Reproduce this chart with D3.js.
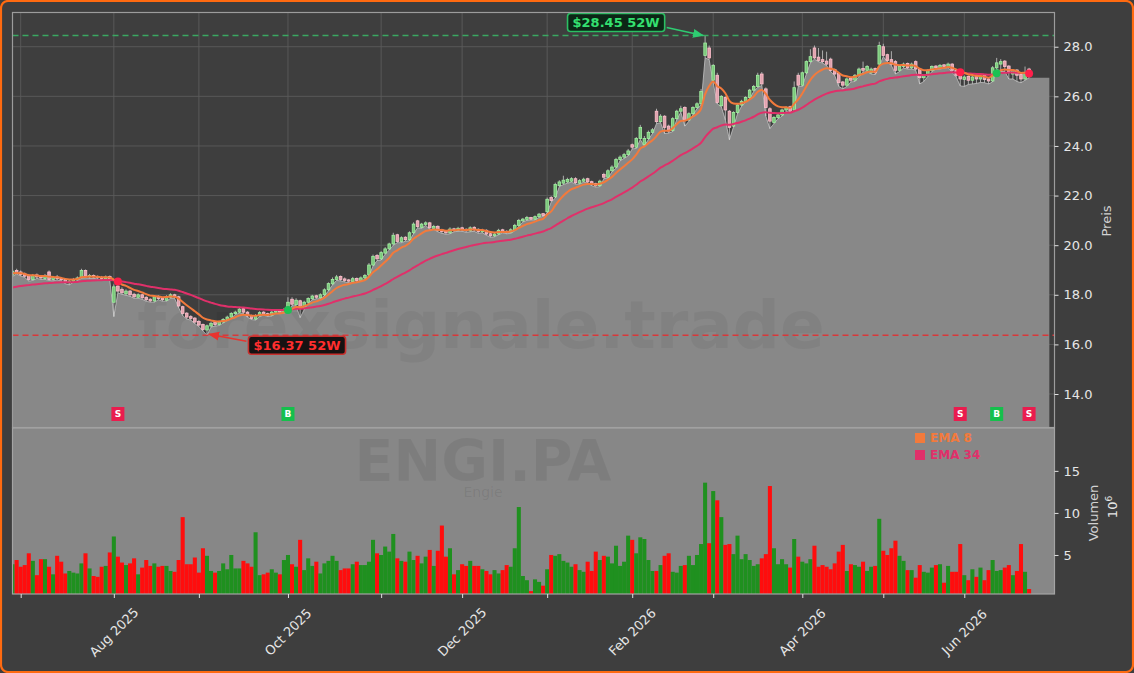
<!DOCTYPE html>
<html>
<head>
<meta charset="utf-8">
<script src="https://cdn.jsdelivr.net/npm/d3@7"></script>
<style>
html, body { margin: 0; padding: 0; background: #3e3e3e; }
svg { display: block; font-family: "DejaVu Sans", sans-serif; }
</style>
</head>
<body>
<svg id="chart" width="1134" height="673"></svg>
<script>
// ENGI.PA daily data (prices in EUR, volume in millions)
const firstDay = "2025-06-27";
const holidays = ["2025-12-25", "2025-12-26", "2026-01-01", "2026-04-03", "2026-04-06", "2026-05-01"];

const opens = [
 18.80,18.98,18.92,18.84,18.78,18.62,18.80,18.74,18.66,18.92, 18.62,18.72,18.66,18.62,18.48,18.55,18.62,18.70,18.98,18.72,
 18.78,18.74,18.70,18.64,18.74,17.70,18.35,18.22,18.04,18.15, 18.02,17.90,18.00,17.90,17.82,17.75,17.94,17.86,17.78,17.90,
 18.00,17.92,17.52,17.26,17.12,17.06,16.92,16.80,16.58,16.74, 16.88,16.80,16.90,17.00,17.10,17.24,17.30,17.44,17.30,17.16,
 17.02,17.15,17.30,17.24,17.18,17.30,17.36,17.30,17.40,17.82, 17.60,17.76,17.44,17.70,17.84,17.96,17.88,18.00,18.20,18.44,
 18.62,18.74,18.64,18.60,18.54,18.66,18.58,18.68,18.80,19.20, 19.58,19.45,19.68,19.85,20.05,20.42,20.15,20.32,20.22,20.50,
 20.98,20.72,20.84,20.90,20.68,20.76,20.62,20.56,20.50,20.66, 20.60,20.70,20.64,20.58,20.72,20.64,20.54,20.60,20.46,20.38,
 20.45,20.62,20.56,20.52,20.62,20.80,20.98,21.04,21.12,21.05, 21.15,21.27,21.35,21.92,21.95,22.40,22.50,22.55,22.58,22.68,
 22.50,22.58,22.68,22.56,22.48,22.40,22.85,22.74,23.00,23.15, 23.45,23.55,23.65,24.05,23.95,24.30,24.05,24.30,24.55,25.40,
 24.98,25.20,24.80,24.62,25.10,25.40,25.55,25.05,25.30,25.55, 25.70,27.65,27.95,26.65,26.85,25.62,25.95,25.40,24.80,25.35,
 25.65,25.80,25.95,26.25,26.40,26.90,26.30,25.50,24.95,25.15, 25.25,25.45,25.58,25.45,26.85,26.45,26.95,27.40,27.95,27.58,
 27.48,27.42,27.50,27.08,26.92,26.58,26.45,26.72,26.65,26.85, 27.12,27.05,26.95,27.12,27.30,28.00,27.68,27.48,27.40,27.05,
 27.20,27.32,27.15,27.40,27.10,26.75,26.85,27.05,27.22,27.15, 27.27,27.20,27.30,27.06,26.95,26.68,26.80,26.65,26.80,26.70,
 26.84,26.70,26.62,27.15,27.30,27.42,27.22,26.90,27.06,26.88, 26.70,27.10
];
const highs = [
 19.02,19.05,18.98,18.90,18.84,18.84,18.86,18.80,18.84,18.98, 18.76,18.80,18.72,18.66,18.60,18.68,18.74,19.05,19.02,18.84,
 18.82,18.78,18.76,18.78,18.78,18.42,18.42,18.30,18.22,18.20, 18.08,18.06,18.04,17.94,17.86,17.98,17.98,17.90,17.98,18.06,
 18.04,17.96,17.56,17.30,17.18,17.10,16.98,16.84,16.80,16.92, 16.92,16.96,17.06,17.16,17.30,17.36,17.50,17.48,17.34,17.20,
 17.22,17.34,17.34,17.28,17.36,17.40,17.40,17.46,17.90,17.90, 17.86,17.80,17.76,17.90,18.00,18.00,18.06,18.26,18.50,18.70,
 18.80,18.78,18.70,18.64,18.72,18.70,18.74,18.84,19.28,19.62, 19.64,19.76,19.92,20.10,20.50,20.46,20.36,20.36,20.56,20.92,
 21.02,20.90,20.96,20.94,20.82,20.80,20.66,20.60,20.72,20.70, 20.74,20.74,20.68,20.76,20.76,20.68,20.66,20.64,20.50,20.52,
 20.66,20.66,20.60,20.68,20.86,21.06,21.10,21.18,21.14,21.20, 21.30,21.30,21.92,21.98,22.52,22.62,22.80,22.72,22.74,22.74,
 22.66,22.72,22.72,22.60,22.52,22.64,22.92,23.06,23.22,23.52, 23.62,23.72,23.88,24.10,24.36,24.85,24.40,24.62,24.72,25.50,
 25.28,25.24,24.86,25.16,25.46,25.62,25.60,25.36,25.60,25.76, 26.30,28.45,28.05,27.30,26.95,26.05,26.00,25.45,25.40,25.70,
 25.86,26.00,26.30,26.46,26.95,26.98,26.36,25.56,25.20,25.30, 25.50,25.60,25.62,26.60,26.95,27.00,27.45,27.90,28.05,27.95,
 27.85,27.80,27.56,27.12,26.96,26.62,26.76,26.78,26.90,27.16, 27.40,27.26,27.16,27.16,28.20,28.12,27.72,27.82,27.46,27.26,
 27.36,27.36,27.36,27.45,27.14,26.90,27.10,27.25,27.26,27.30, 27.30,27.36,27.34,27.10,27.00,26.84,26.84,26.84,26.84,26.88,
 26.88,26.74,27.22,27.55,27.50,27.46,27.26,27.10,27.10,26.92, 27.20,27.15
];
const lows = [
 18.74,18.84,18.76,18.70,18.55,18.58,18.66,18.62,18.62,18.58, 18.56,18.60,18.55,18.45,18.40,18.50,18.58,18.66,18.68,18.66,
 18.66,18.64,18.60,18.60,18.58,17.12,18.08,18.02,17.98,17.94, 17.86,17.86,17.82,17.74,17.70,17.70,17.80,17.74,17.74,17.86,
 17.86,17.48,17.16,17.02,16.98,16.84,16.72,16.54,16.37,16.70, 16.74,16.76,16.86,16.96,17.06,17.20,17.26,17.24,17.10,17.00,
 16.98,17.12,17.18,17.12,17.14,17.26,17.24,17.26,17.36,17.56, 17.56,17.08,17.40,17.66,17.80,17.84,17.84,17.96,18.16,18.40,
 18.58,18.56,18.52,18.48,18.50,18.52,18.54,18.64,18.76,19.16, 19.38,19.40,19.64,19.80,20.00,20.10,20.10,20.16,20.18,20.46,
 20.70,20.68,20.80,20.64,20.64,20.54,20.48,20.44,20.46,20.54, 20.56,20.56,20.52,20.54,20.56,20.48,20.50,20.40,20.32,20.34,
 20.42,20.50,20.46,20.48,20.58,20.76,20.94,21.00,21.02,21.02, 21.12,21.16,21.30,21.74,21.90,22.36,22.44,22.50,22.54,22.46,
 22.46,22.54,22.50,22.40,22.34,22.36,22.68,22.70,22.96,23.10, 23.40,23.50,23.60,23.88,23.90,24.26,24.00,24.26,24.50,24.90,
 24.94,24.50,24.52,24.58,25.06,25.36,24.80,25.00,25.26,25.50, 25.66,27.55,27.48,26.55,25.70,25.58,25.05,24.25,24.76,25.30,
 25.60,25.76,25.90,26.20,26.36,26.44,25.20,24.70,24.90,25.10, 25.20,25.40,25.34,25.40,26.40,26.40,26.90,27.35,27.50,27.40,
 27.34,27.24,27.00,26.84,26.40,26.30,26.40,26.58,26.60,26.80, 26.98,27.00,26.90,26.88,27.20,27.60,27.40,27.24,26.90,27.00,
 27.14,27.10,27.10,27.05,26.50,26.60,26.80,27.00,27.10,27.10, 27.14,27.16,26.96,26.78,26.42,26.40,26.48,26.50,26.52,26.56,
 26.55,26.50,26.58,27.10,27.00,27.00,26.70,26.70,26.60,26.55, 26.65,26.75
];
const closes = [
 18.95,18.90,18.82,18.75,18.62,18.78,18.72,18.68,18.78,18.62, 18.70,18.65,18.60,18.50,18.55,18.62,18.68,18.98,18.75,18.78,
 18.72,18.70,18.66,18.72,18.65,18.32,18.15,18.08,18.15,18.00, 17.92,18.00,17.88,17.80,17.75,17.92,17.85,17.80,17.92,18.00,
 17.92,17.55,17.25,17.10,17.05,16.90,16.78,16.60,16.75,16.85, 16.80,16.90,17.00,17.10,17.25,17.30,17.42,17.30,17.15,17.05,
 17.15,17.28,17.22,17.18,17.30,17.35,17.30,17.40,17.70,17.62, 17.78,17.45,17.70,17.85,17.95,17.90,18.00,18.20,18.45,18.62,
 18.72,18.62,18.58,18.55,18.65,18.58,18.68,18.78,19.20,19.55, 19.45,19.70,19.85,20.05,20.40,20.15,20.30,20.22,20.50,20.85,
 20.75,20.85,20.90,20.70,20.75,20.60,20.55,20.50,20.65,20.60, 20.68,20.62,20.58,20.70,20.62,20.55,20.60,20.45,20.38,20.45,
 20.60,20.55,20.52,20.62,20.80,21.00,21.05,21.12,21.05,21.15, 21.25,21.20,21.85,21.80,22.45,22.55,22.62,22.65,22.68,22.52,
 22.60,22.66,22.55,22.45,22.40,22.58,22.74,23.00,23.15,23.45, 23.55,23.65,23.80,23.95,24.30,24.75,24.30,24.55,24.65,24.98,
 25.20,24.75,24.60,25.10,25.40,25.50,25.05,25.30,25.55,25.70, 26.20,28.15,27.55,27.25,25.75,26.00,25.45,24.75,25.35,25.65,
 25.80,25.95,26.25,26.40,26.85,26.50,25.55,25.00,25.15,25.25, 25.45,25.55,25.40,26.35,26.45,26.95,27.40,27.60,27.55,27.45,
 27.40,27.30,27.05,26.90,26.55,26.45,26.70,26.65,26.85,27.10, 27.05,27.20,27.10,26.95,28.05,27.65,27.45,27.30,27.05,27.20,
 27.30,27.15,27.30,27.10,26.75,26.85,27.05,27.20,27.15,27.25, 27.20,27.30,27.05,26.85,26.70,26.78,26.65,26.78,26.70,26.82,
 26.68,26.62,27.15,27.35,27.40,27.20,27.00,27.05,26.85,26.70, 26.95,26.80
];
const volumes = [
 3.9,4.4,3.6,3.8,5.2,4.3,2.6,4.5,4.5,3.6, 2.7,4.9,4.2,2.8,3.1,2.9,2.8,4.0,5.2,3.4,
 2.5,2.4,3.6,3.7,5.3,7.2,4.8,4.1,3.8,4.0, 4.6,2.7,3.5,4.4,3.7,4.0,3.6,3.7,3.7,3.1,
 3.0,4.4,9.5,3.9,3.9,4.7,2.9,5.8,4.9,3.1, 2.9,3.1,4.0,3.3,5.0,3.4,3.4,4.3,4.0,3.6,
 7.7,2.6,2.7,2.9,3.3,2.9,2.7,4.4,5.0,3.9, 3.6,6.8,3.2,4.6,3.7,4.2,2.8,4.0,4.3,4.9,
 4.3,3.2,3.4,3.4,3.9,4.2,3.8,3.8,4.2,6.8, 5.2,5.0,6.0,5.4,7.5,4.6,4.3,4.2,5.4,4.4,
 4.9,4.0,4.8,5.6,3.7,5.5,8.5,4.8,5.8,2.7, 3.2,3.9,3.7,4.3,3.7,3.7,3.3,3.1,2.7,3.2,
 2.8,3.2,3.8,3.6,5.8,10.7,2.5,2.0,0.7,2.1, 1.8,1.35,3.3,5.0,4.9,5.1,4.3,4.1,3.6,3.9,
 3.2,3.0,4.2,3.1,5.4,4.4,4.9,4.8,4.0,6.1, 3.7,4.2,7.3,6.8,5.2,7.1,6.9,4.4,3.1,3.1,
 3.8,4.9,5.2,3.0,2.9,3.7,3.8,4.9,3.8,5.0, 6.3,13.6,6.4,12.6,11.5,9.5,6.2,6.3,5.1,7.3,
 4.5,5.1,4.4,3.7,3.9,4.6,5.1,13.2,5.8,3.9, 4.5,3.9,3.5,6.9,4.8,4.2,4.0,4.5,6.1,3.6,
 3.8,3.6,3.3,4.0,5.4,6.2,3.1,3.9,3.8,3.6, 4.2,3.1,3.6,3.7,9.3,5.5,5.0,5.8,6.7,4.9,
 4.3,3.2,3.2,2.3,3.8,3.0,2.9,3.5,3.8,3.9, 1.7,3.7,3.0,3.0,6.3,2.6,2.0,3.3,2.4,3.5,
 2.0,3.2,4.4,3.1,3.2,3.5,3.8,2.6,3.1,6.3, 3.0,0.95
];
// EMA values carried in from before the first visible day
const ema8Seed = 18.85;
const ema34Seed = 18.25;
// crossover signals (trading-day index, type)
const signalIdx = [26, 68, 234, 243, 251];
const signalType = ["S", "B", "S", "B", "S"];
const priceTicks = [14, 16, 18, 20, 22, 24, 26, 28];
const volumeTicks = [5, 10, 15];

// Helpers
function tradingDays (start, count) {
    let out = [];
    let d = new Date(start + "T12:00:00");
    let key = d3.timeFormat("%Y-%m-%d");
    while (out.length < count) {
        let wd = d.getDay();
        if (wd !== 0 && wd !== 6 && !holidays.includes(key(d))) out.push(new Date(d));
        d.setDate(d.getDate() + 1);
    }
    return out;
}
function ema (values, span, seed) {
    let a = 2 / (span + 1);
    let prev = seed;
    return values.map(v => (prev = a * v + (1 - a) * prev));
}

let n = closes.length;
let dates = tradingDays(firstDay, n);
let ema8 = ema(closes, 8, ema8Seed);
let ema34 = ema(closes, 34, ema34Seed);
let monthIdx = d3.range(1, n).filter(i => dates[i].getMonth() !== dates[i - 1].getMonth());

let left = 12.5, right = 1054.5;
let pTop = 12.5, pBot = 427.5, vTop = 428, vBot = 594;
let x = d3.scaleLinear().domain([0, 257.3]).range([12.6, 1054.6]);
let y = d3.scaleLinear().domain([12.65, 29.38]).range([pBot, pTop]);
let yv = d3.scaleLinear().domain([0.36, 20.1]).range([vBot, vTop]);
let step = x(1) - x(0);

let svg = d3.select("#chart");
svg.append("rect").attr("width", 1134).attr("height", 673).attr("fill", "#3e3e3e");

let defs = svg.append("defs");
defs.append("clipPath").attr("id", "clipP")
    .append("rect").attr("x", left).attr("y", pTop).attr("width", right - left).attr("height", pBot - pTop);
defs.append("clipPath").attr("id", "clipV")
    .append("rect").attr("x", left).attr("y", vTop).attr("width", right - left).attr("height", vBot - vTop);
[["arrG", "#2ecc71"], ["arrR", "#e8342f"]].forEach(([id, c]) => {
    defs.append("marker").attr("id", id)
        .attr("viewBox", "0 0 10 10").attr("refX", 9).attr("refY", 5)
        .attr("markerWidth", 7).attr("markerHeight", 7).attr("orient", "auto")
        .append("path").attr("d", "M0,1 L10,5 L0,9 Z").attr("fill", c);
});

// ---- price panel
let gp = svg.append("g").attr("clip-path", "url(#clipP)");
gp.selectAll(".hgrid")
    .data(priceTicks)
    .join("line")
        .attr("x1", left).attr("x2", right)
        .attr("y1", d => y(d)).attr("y2", d => y(d))
        .style("stroke", "#5b5b5b").style("stroke-width", "0.9px");
gp.selectAll(".vgrid")
    .data(monthIdx)
    .join("line")
        .attr("x1", d => x(d)).attr("x2", d => x(d))
        .attr("y1", pTop).attr("y2", pBot)
        .style("stroke", "#5b5b5b").style("stroke-width", "0.9px");

// area under the daily lows, carried flat past the last day
let areaPts = lows.map((v, i) => [i, v]).concat([[n + 4, lows[n - 1]]]);
gp.append("path")
    .datum(areaPts)
    .attr("d", d3.area().x(d => x(d[0])).y0(pBot).y1(d => y(d[1])))
    .attr("fill", "#888888");
gp.append("path")
    .datum(areaPts.slice(0, n))
    .attr("d", d3.line().x(d => x(d[0])).y(d => y(d[1])))
    .attr("fill", "none").style("stroke", "#c4c4c4").style("stroke-width", "0.8px");

gp.append("text")
    .attr("x", 481).attr("y", 348)
    .attr("text-anchor", "middle")
    .style("font-size", "66px").style("font-weight", "bold")
    .attr("fill", "#000").attr("fill-opacity", 0.05)
    .text("forexsignale.trade");

// candles
let idx = d3.range(n);
gp.selectAll(".wick")
    .data(idx)
    .join("line")
        .attr("x1", i => x(i)).attr("x2", i => x(i))
        .attr("y1", i => y(highs[i])).attr("y2", i => y(lows[i]))
        .style("stroke", "#dcdcdc").style("stroke-width", "0.7px");
gp.selectAll(".body")
    .data(idx)
    .join("rect")
        .attr("x", i => x(i) - 1.3)
        .attr("width", 2.6)
        .attr("y", i => y(Math.max(opens[i], closes[i])))
        .attr("height", i => Math.max(0.8, Math.abs(y(opens[i]) - y(closes[i]))))
        .attr("fill", i => closes[i] >= opens[i] ? "#7cc77c" : "#e0a3ae")
        .style("stroke", i => closes[i] >= opens[i] ? "#a2f0a2" : "#ffbfcc")
        .style("stroke-width", "0.8px");

gp.append("path")
    .datum(ema34)
    .attr("d", d3.line().x((d, i) => x(i)).y(d => y(d)).curve(d3.curveMonotoneX))
    .attr("fill", "none").style("stroke", "#e0306a").style("stroke-width", "2px");
gp.append("path")
    .datum(ema8)
    .attr("d", d3.line().x((d, i) => x(i)).y(d => y(d)).curve(d3.curveMonotoneX))
    .attr("fill", "none").style("stroke", "#f27a3c").style("stroke-width", "2px");

// 52 week high / low
let hi = d3.max(highs), lo = d3.min(lows);
let hiIdx = highs.indexOf(hi), loIdx = lows.indexOf(lo);
gp.append("line")
    .attr("x1", left).attr("x2", right).attr("y1", y(hi)).attr("y2", y(hi))
    .style("stroke", "#3aa862").style("stroke-width", "1.5px").style("stroke-dasharray", "6,4");
gp.append("line")
    .attr("x1", left).attr("x2", right).attr("y1", y(lo)).attr("y2", y(lo))
    .style("stroke", "#d8383a").style("stroke-width", "1.5px").style("stroke-dasharray", "6,4");

// crossover dots
gp.selectAll(".sigDot")
    .data(signalIdx)
    .join("circle")
        .attr("cx", d => x(d))
        .attr("cy", d => y((ema8[d] + ema34[d]) / 2))
        .attr("r", 4)
        .attr("fill", (d, i) => signalType[i] === "B" ? "#1cc153" : "#ff1f4b");

function labelBox (g, cx, cy, txt, fill, stroke, color) {
    let t = g.append("text")
        .attr("x", cx).attr("y", cy).attr("dy", "0.36em")
        .attr("text-anchor", "middle")
        .style("font-size", "13px").style("font-weight", "bold")
        .attr("fill", color)
        .text(txt);
    let w = t.node().getComputedTextLength() + 10;
    g.insert("rect", "text")
        .attr("x", cx - w / 2).attr("y", cy - 9).attr("width", w).attr("height", 18)
        .attr("rx", 3)
        .attr("fill", fill).style("stroke", stroke).style("stroke-width", "1.6px");
    return w;
}
let ga = svg.append("g");
let hx = x(hiIdx) - 89, hy = y(hi) - 13;
let gHi = ga.append("g");
let wHi = labelBox(gHi, hx, hy, "$" + hi.toFixed(2) + " 52W", "#0c2616", "#2bbf63", "#34e070");
ga.append("line")
    .attr("x1", hx + wHi / 2 + 2).attr("y1", hy + 5)
    .attr("x2", x(hiIdx) - 2).attr("y2", y(hi))
    .style("stroke", "#2ecc71").style("stroke-width", "1.6px")
    .attr("marker-end", "url(#arrG)");
let lx = x(loIdx) + 90, ly = y(lo) + 10;
let gLo = ga.append("g");
let wLo = labelBox(gLo, lx, ly, "$" + lo.toFixed(2) + " 52W", "#161212", "#c8302e", "#ff2e2e");
ga.append("line")
    .attr("x1", lx - wLo / 2 - 2).attr("y1", ly - 4)
    .attr("x2", x(loIdx) + 2).attr("y2", y(lo) - 1)
    .style("stroke", "#e8342f").style("stroke-width", "1.6px")
    .attr("marker-end", "url(#arrR)");

// buy / sell tags
let gs = svg.selectAll(".sigTag")
    .data(signalIdx)
    .join("g")
        .attr("transform", d => "translate(" + x(d) + ",414)");
gs.append("rect")
    .attr("x", -6.5).attr("y", -7).attr("width", 13).attr("height", 14)
    .attr("fill", (d, i) => signalType[i] === "B" ? "#15c04c" : "#ea1c4e");
gs.append("text")
    .attr("text-anchor", "middle").attr("dy", "0.36em")
    .style("font-size", "9px").style("font-weight", "bold")
    .attr("fill", "#fff")
    .text((d, i) => signalType[i]);

svg.append("rect")
    .attr("x", left).attr("y", pTop).attr("width", right - left).attr("height", pBot - pTop)
    .attr("fill", "none").style("stroke", "#9c9c9c").style("stroke-width", "1.2px");

// ---- volume panel
svg.append("rect")
    .attr("x", left).attr("y", vTop).attr("width", right - left).attr("height", vBot - vTop)
    .attr("fill", "#878787");
let gv = svg.append("g").attr("clip-path", "url(#clipV)");
gv.append("text")
    .attr("x", 483).attr("y", 481).attr("text-anchor", "middle")
    .style("font-size", "57px").style("font-weight", "bold")
    .attr("fill", "#000").attr("fill-opacity", 0.07)
    .text("ENGI.PA");
gv.append("text")
    .attr("x", 483).attr("y", 497).attr("text-anchor", "middle")
    .style("font-size", "14px")
    .attr("fill", "#000").attr("fill-opacity", 0.08)
    .text("Engie");
gv.selectAll(".vol")
    .data(idx)
    .join("rect")
        .attr("x", i => x(i) - step / 2)
        .attr("width", step)
        .attr("y", i => yv(volumes[i]))
        .attr("height", i => vBot - yv(volumes[i]))
        .attr("fill", i => closes[i] >= opens[i] ? "#1f901f" : "#ff0d0d");

let legend = svg.append("g").attr("transform", "translate(915,0)");
[["EMA 8", "#f27a3c", 438], ["EMA 34", "#e0306a", 455]].forEach(([t, c, ly2]) => {
    legend.append("rect").attr("x", 0).attr("y", ly2 - 5).attr("width", 10).attr("height", 10).attr("fill", c);
    legend.append("text").attr("x", 15).attr("y", ly2).attr("dy", "0.36em")
        .style("font-size", "12px").style("font-weight", "bold")
        .attr("fill", c).text(t);
});
svg.append("rect")
    .attr("x", left).attr("y", vTop).attr("width", right - left).attr("height", vBot - vTop)
    .attr("fill", "none").style("stroke", "#a4a4a4").style("stroke-width", "1.2px");

// ---- axes
function styleAxis (g) {
    g.select(".domain").remove();
    g.selectAll(".tick line").style("stroke", "#e0e0e0");
    g.selectAll(".tick text").style("font-size", "13px").attr("fill", "#e6e6e6")
        .style("font-family", "DejaVu Sans, sans-serif");
}
svg.append("g")
    .attr("transform", "translate(" + right + ",0)")
    .call(d3.axisRight(y).tickValues(priceTicks).tickFormat(d3.format(".1f")).tickSize(4).tickPadding(5))
    .call(styleAxis);
svg.append("g")
    .attr("transform", "translate(" + right + ",0)")
    .call(d3.axisRight(yv).tickValues(volumeTicks).tickFormat(d3.format("d")).tickSize(4).tickPadding(5))
    .call(styleAxis);

svg.append("g")
    .attr("transform", "translate(0," + vBot + ")")
    .call(d3.axisBottom(x).tickValues(monthIdx).tickFormat("").tickSize(4))
    .call(styleAxis);
let fmt = d3.timeFormat("%b %Y");
svg.selectAll(".xlab")
    .data(monthIdx.filter(i => dates[i].getMonth() % 2 === 1))
    .join("text")
        .attr("x", d => x(d)).attr("y", 632)
        .attr("dy", "0.36em")
        .attr("text-anchor", "middle")
        .attr("transform", d => "rotate(-45," + x(d) + ",632)")
        .style("font-size", "13px").attr("fill", "#e6e6e6")
        .text(d => fmt(dates[d]));

svg.append("text")
    .attr("transform", "translate(1106,221) rotate(-90)")
    .attr("text-anchor", "middle").attr("dy", "0.36em")
    .style("font-size", "13px").attr("fill", "#d2d2d2")
    .text("Preis");
svg.append("text")
    .attr("transform", "translate(1093,513) rotate(-90)")
    .attr("text-anchor", "middle").attr("dy", "0.36em")
    .style("font-size", "13px").attr("fill", "#d2d2d2")
    .text("Volumen");
let exp = svg.append("text")
    .attr("transform", "translate(1112,507) rotate(-90)")
    .attr("text-anchor", "middle").attr("dy", "0.36em")
    .style("font-size", "13px").attr("fill", "#e6e6e6");
exp.append("tspan").text("10");
exp.append("tspan").attr("dy", "-5").style("font-size", "9px").text("6");

// outer frame
svg.append("rect")
    .attr("x", 1).attr("y", 1).attr("width", 1132).attr("height", 671).attr("rx", 7)
    .attr("fill", "none").style("stroke", "#ff6a10").style("stroke-width", "2.2px");
</script>
</body>
</html>
